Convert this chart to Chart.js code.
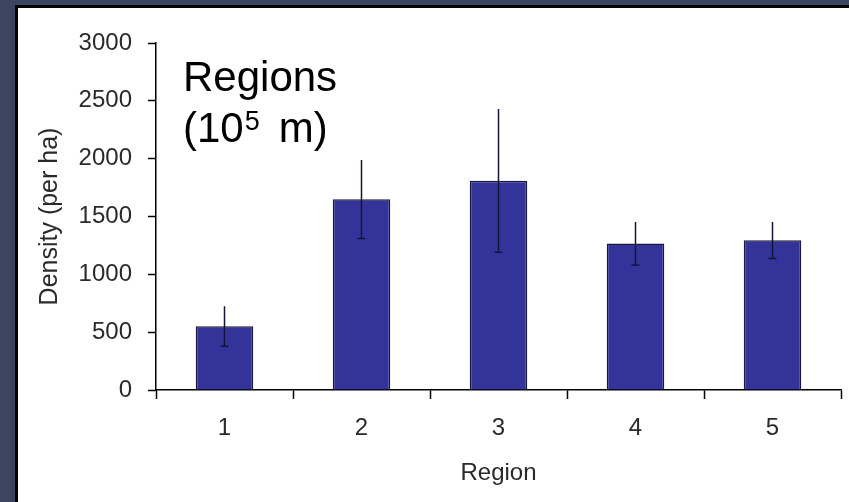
<!DOCTYPE html>
<html>
<head>
<meta charset="utf-8">
<script src="https://cdn.jsdelivr.net/npm/chart.js@4.4.1/dist/chart.umd.min.js"></script>
<style>
  html, body { margin: 0; padding: 0; background: #3c4560; }
  canvas { display: block; }
</style>
</head>
<body>
<canvas id="densityChart" width="849" height="502"></canvas>
<script>
// Values
const regions = ['1', '2', '3', '4', '5'];
const density = [551, 1649, 1810, 1267, 1295];
const densityErr = [172, 340, 620, 186, 158];
const yTicks = [0, 500, 1000, 1500, 2000, 2500, 3000];

const FONT = "'Liberation Sans', Arial, sans-serif";

// dark slide background with the white panel
const framePlugin = {
    id: 'frame',
    beforeDraw(chart) {
        const ctx = chart.ctx;
        ctx.save();
        ctx.fillStyle = '#3c4560';
        ctx.fillRect(0, 0, chart.width, chart.height);
        ctx.fillStyle = '#050505';
        ctx.fillRect(15, 5, chart.width - 15, chart.height - 5);
        ctx.fillStyle = '#ffffff';
        ctx.fillRect(18, 8, chart.width - 18, chart.height - 8);
        ctx.restore();
    }
};

// vertical error bars, cap on the lower end only
const errorBarPlugin = {
    id: 'errorBars',
    afterDatasetsDraw(chart) {
        const ctx = chart.ctx;
        const y = chart.scales.y;
        const meta = chart.getDatasetMeta(0);
        ctx.save();
        ctx.strokeStyle = '#14143a';
        ctx.lineWidth = 1.5;
        meta.data.forEach((bar, i) => {
            const top = y.getPixelForValue(density[i] + densityErr[i]);
            const bottom = y.getPixelForValue(density[i] - densityErr[i]);
            ctx.beginPath();
            ctx.moveTo(bar.x, top);
            ctx.lineTo(bar.x, bottom);
            ctx.moveTo(bar.x - 4, bottom);
            ctx.lineTo(bar.x + 4, bottom);
            ctx.stroke();
        });
        ctx.restore();
    }
};

// "Regions (10^5 m)" note inside the plot
const notePlugin = {
    id: 'note',
    afterDraw(chart) {
        const ctx = chart.ctx;
        ctx.save();
        ctx.fillStyle = '#000';
        ctx.textBaseline = 'alphabetic';
        ctx.font = '42px ' + FONT;
        ctx.fillText('Regions', 183, 91);
        ctx.fillText('(10', 183, 142);
        let x = 183 + ctx.measureText('(10').width + 1;
        ctx.font = '27px ' + FONT;
        ctx.fillText('5', x, 130);
        x += ctx.measureText('5').width + 19;
        ctx.font = '42px ' + FONT;
        ctx.fillText('m)', x, 142);
        ctx.restore();
    }
};

new Chart(document.getElementById('densityChart'), {
    type: 'bar',
    data: {
        labels: regions,
        datasets: [{
            label: 'Density',
            data: density,
            backgroundColor: '#333399',
            borderColor: '#1a1a40',
            borderWidth: 1.5,
            barPercentage: 0.42,
            categoryPercentage: 1.0
        }]
    },
    options: {
        responsive: false,
        animation: false,
        layout: { padding: { left: 0, top: 43, right: 8, bottom: 0 } },
        plugins: {
            legend: { display: false },
            tooltip: { enabled: false }
        },
        scales: {
            x: {
                grid: {
                    offset: true,
                    drawOnChartArea: false,
                    drawTicks: true,
                    tickLength: 9,
                    tickColor: '#000',
                    tickWidth: 1.5
                },
                border: { color: '#000', width: 1.5 },
                ticks: {
                    color: '#2a2a2a',
                    padding: 15,
                    font: { family: FONT, size: 24 }
                },
                title: {
                    display: true,
                    text: 'Region',
                    color: '#2a2a2a',
                    font: { family: FONT, size: 24, lineHeight: 1 },
                    padding: { top: 0, bottom: 17 }
                },
                afterFit(scale) { scale.height = 112; }
            },
            y: {
                min: 0,
                max: 3000,
                afterBuildTicks(scale) {
                    scale.ticks = yTicks.map(v => ({ value: v }));
                },
                grid: {
                    drawOnChartArea: false,
                    drawTicks: true,
                    tickLength: 8,
                    tickColor: '#000',
                    tickWidth: 1.5
                },
                border: { color: '#000', width: 1.5 },
                ticks: {
                    color: '#2a2a2a',
                    padding: 16,
                    font: { family: FONT, size: 24 },
                    callback: (v) => String(v)
                },
                title: {
                    display: true,
                    text: 'Density (per ha)',
                    color: '#2a2a2a',
                    font: { family: FONT, size: 25, lineHeight: 1 },
                    padding: { top: 38, bottom: 0 }
                },
                afterFit(scale) { scale.width = 156; }
            }
        }
    },
    plugins: [framePlugin, errorBarPlugin, notePlugin]
});
</script>
</body>
</html>
